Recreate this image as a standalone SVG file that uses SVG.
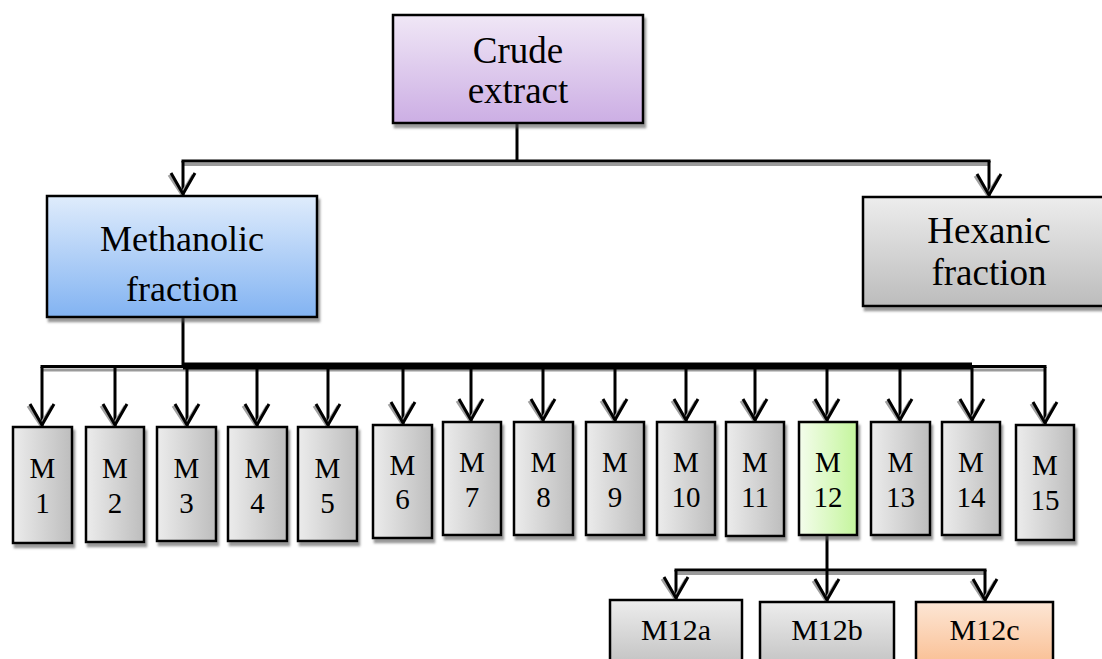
<svg xmlns="http://www.w3.org/2000/svg" width="1102" height="659" viewBox="0 0 1102 659">
<style>
.box{stroke:#000;stroke-width:2.5}
.t{font-family:"Liberation Serif","Times New Roman",serif;fill:#000;text-anchor:middle}
.big{font-size:36px}
.m{font-size:29px}
.sub{font-size:30px}
.ln{stroke:#000;stroke-width:3;fill:none}
.sh{stroke:#9a9a9a;stroke-width:3;fill:none}
.ar{stroke:#000;stroke-width:3;fill:none;marker-end:url(#ah)}
</style>
<defs>
<linearGradient id="gPurple" x1="0" y1="0" x2="0" y2="1"><stop offset="0" stop-color="#f0e7f6"/><stop offset="1" stop-color="#ccaee4"/></linearGradient>
<linearGradient id="gBlue" x1="0" y1="0" x2="0" y2="1"><stop offset="0" stop-color="#dfecfc"/><stop offset="1" stop-color="#82b3f2"/></linearGradient>
<linearGradient id="gGreyV" x1="0" y1="0" x2="0" y2="1"><stop offset="0" stop-color="#ededed"/><stop offset="1" stop-color="#bcbcbc"/></linearGradient>
<linearGradient id="gGreyH" x1="0" y1="0" x2="1" y2="0"><stop offset="0" stop-color="#ececec"/><stop offset="1" stop-color="#bdbdbd"/></linearGradient>
<linearGradient id="gGreen" x1="0" y1="0" x2="1" y2="0"><stop offset="0" stop-color="#f4fdec"/><stop offset="1" stop-color="#c4f59c"/></linearGradient>
<linearGradient id="gOrange" x1="0" y1="0" x2="0" y2="1"><stop offset="0" stop-color="#fde6d5"/><stop offset="1" stop-color="#f9b887"/></linearGradient>
<filter id="ds" x="-10%" y="-10%" width="125%" height="125%"><feDropShadow dx="2" dy="4" stdDeviation="1.2" flood-color="#555" flood-opacity="0.6"/></filter>
<marker id="ah" markerUnits="userSpaceOnUse" viewBox="-26 -16 30 32" refX="0" refY="0" markerWidth="30" markerHeight="32" orient="auto" overflow="visible">
<path d="M-20,-10 L-1,1.5 L-20,14" fill="none" stroke="#a0a0a0" stroke-width="3"/>
<path d="M-22,-12 L-1,0 L-22,12" fill="none" stroke="#000" stroke-width="3"/>
</marker>
</defs>

<g id="connectors">
<line class="ln" x1="517" y1="123" x2="517" y2="161"/>
<line class="sh" x1="183" y1="164.5" x2="990" y2="164.5"/>
<line class="ln" x1="181.5" y1="161" x2="990.5" y2="161"/>
<line class="ar" x1="183" y1="161" x2="183" y2="195"/>
<line class="ar" x1="989" y1="161" x2="989" y2="196"/>
<line class="ln" x1="183" y1="317" x2="183" y2="366"/>
<line class="sh" x1="42" y1="370" x2="1045" y2="370"/>
<line class="ln" x1="40.5" y1="366.5" x2="1046.5" y2="366.5"/>
<line x1="183" y1="366" x2="972" y2="366" stroke="#000" stroke-width="7"/>
<line class="ar" x1="42" y1="367" x2="42" y2="426"/>
<line class="ar" x1="115" y1="367" x2="115" y2="426"/>
<line class="ar" x1="187" y1="367" x2="187" y2="426"/>
<line class="ar" x1="257" y1="367" x2="257" y2="426"/>
<line class="ar" x1="328" y1="367" x2="328" y2="426"/>
<line class="ar" x1="403" y1="367" x2="403" y2="424"/>
<line class="ar" x1="471" y1="367" x2="471" y2="421"/>
<line class="ar" x1="543" y1="367" x2="543" y2="421"/>
<line class="ar" x1="615" y1="367" x2="615" y2="421"/>
<line class="ar" x1="686" y1="367" x2="686" y2="421"/>
<line class="ar" x1="755" y1="367" x2="755" y2="421"/>
<line class="ar" x1="827" y1="367" x2="827" y2="421"/>
<line class="ar" x1="900" y1="367" x2="900" y2="421"/>
<line class="ar" x1="972" y1="367" x2="972" y2="421"/>
<line class="ar" x1="1045" y1="367" x2="1045" y2="424"/>
<line class="ln" x1="827" y1="535" x2="827" y2="570"/>
<line class="sh" x1="676" y1="573.5" x2="985" y2="573.5"/>
<line class="ln" x1="674.5" y1="570" x2="986.5" y2="570"/>
<line class="ar" x1="676" y1="570" x2="676" y2="599"/>
<line class="ar" x1="827" y1="570" x2="827" y2="601"/>
<line class="ar" x1="985" y1="570" x2="985" y2="601"/>
</g>

<g id="crude"><rect class="box" x="393" y="15" width="250" height="108" fill="url(#gPurple)" filter="url(#ds)"/><text class="t big" x="518" y="63" style="font-size:37px">Crude</text><text class="t big" x="518" y="103" style="font-size:37px">extract</text></g>
<g id="methanolic"><rect class="box" x="47" y="196" width="270" height="121" fill="url(#gBlue)" filter="url(#ds)"/><text class="t big" x="182" y="251">Methanolic</text><text class="t big" x="182" y="301">fraction</text></g>
<g id="hexanic"><rect class="box" x="863" y="197" width="250" height="109" fill="url(#gGreyV)" filter="url(#ds)"/><text class="t big" x="989" y="243" style="font-size:37px">Hexanic</text><text class="t big" x="989" y="285" style="font-size:37px">fraction</text></g>

<g id="M1"><rect class="box" x="13" y="427" width="59" height="116" fill="url(#gGreyH)" filter="url(#ds)"/><text class="t m" x="42.5" y="478">M</text><text class="t m" x="42.5" y="513">1</text></g>
<g id="M2"><rect class="box" x="86" y="427" width="58" height="115" fill="url(#gGreyH)" filter="url(#ds)"/><text class="t m" x="115" y="478">M</text><text class="t m" x="115" y="513">2</text></g>
<g id="M3"><rect class="box" x="157" y="427" width="59" height="114" fill="url(#gGreyH)" filter="url(#ds)"/><text class="t m" x="186.5" y="478">M</text><text class="t m" x="186.5" y="513">3</text></g>
<g id="M4"><rect class="box" x="228" y="427" width="59" height="114" fill="url(#gGreyH)" filter="url(#ds)"/><text class="t m" x="257.5" y="478">M</text><text class="t m" x="257.5" y="513">4</text></g>
<g id="M5"><rect class="box" x="298" y="427" width="59" height="114" fill="url(#gGreyH)" filter="url(#ds)"/><text class="t m" x="327.5" y="478">M</text><text class="t m" x="327.5" y="513">5</text></g>
<g id="M6"><rect class="box" x="373" y="425" width="59" height="113" fill="url(#gGreyH)" filter="url(#ds)"/><text class="t m" x="402.5" y="475">M</text><text class="t m" x="402.5" y="509">6</text></g>
<g id="M7"><rect class="box" x="443" y="422" width="58" height="113" fill="url(#gGreyH)" filter="url(#ds)"/><text class="t m" x="472" y="472">M</text><text class="t m" x="472" y="507">7</text></g>
<g id="M8"><rect class="box" x="514" y="422" width="59" height="113" fill="url(#gGreyH)" filter="url(#ds)"/><text class="t m" x="543.5" y="472">M</text><text class="t m" x="543.5" y="507">8</text></g>
<g id="M9"><rect class="box" x="586" y="422" width="58" height="113" fill="url(#gGreyH)" filter="url(#ds)"/><text class="t m" x="615" y="472">M</text><text class="t m" x="615" y="507">9</text></g>
<g id="M10"><rect class="box" x="657" y="422" width="58" height="113" fill="url(#gGreyH)" filter="url(#ds)"/><text class="t m" x="686" y="472">M</text><text class="t m" x="686" y="507">10</text></g>
<g id="M11"><rect class="box" x="726" y="422" width="58" height="114" fill="url(#gGreyH)" filter="url(#ds)"/><text class="t m" x="755" y="472">M</text><text class="t m" x="755" y="507">11</text></g>
<g id="M12"><rect class="box" x="799" y="422" width="58" height="113" fill="url(#gGreen)" filter="url(#ds)"/><text class="t m" x="828" y="472">M</text><text class="t m" x="828" y="507">12</text></g>
<g id="M13"><rect class="box" x="871" y="422" width="59" height="113" fill="url(#gGreyH)" filter="url(#ds)"/><text class="t m" x="900.5" y="472">M</text><text class="t m" x="900.5" y="507">13</text></g>
<g id="M14"><rect class="box" x="942" y="422" width="58" height="113" fill="url(#gGreyH)" filter="url(#ds)"/><text class="t m" x="971" y="472">M</text><text class="t m" x="971" y="507">14</text></g>
<g id="M15"><rect class="box" x="1016" y="425" width="58" height="115" fill="url(#gGreyH)" filter="url(#ds)"/><text class="t m" x="1045" y="475">M</text><text class="t m" x="1045" y="510">15</text></g>

<g id="M12a"><rect class="box" x="610" y="600" width="132" height="75" fill="url(#gGreyV)"/><text class="t sub" x="676" y="640">M12a</text></g>
<g id="M12b"><rect class="box" x="760" y="602" width="134" height="75" fill="url(#gGreyV)"/><text class="t sub" x="827" y="640">M12b</text></g>
<g id="M12c"><rect class="box" x="916" y="602" width="137" height="75" fill="url(#gOrange)"/><text class="t sub" x="984.5" y="640">M12c</text></g>
</svg>
